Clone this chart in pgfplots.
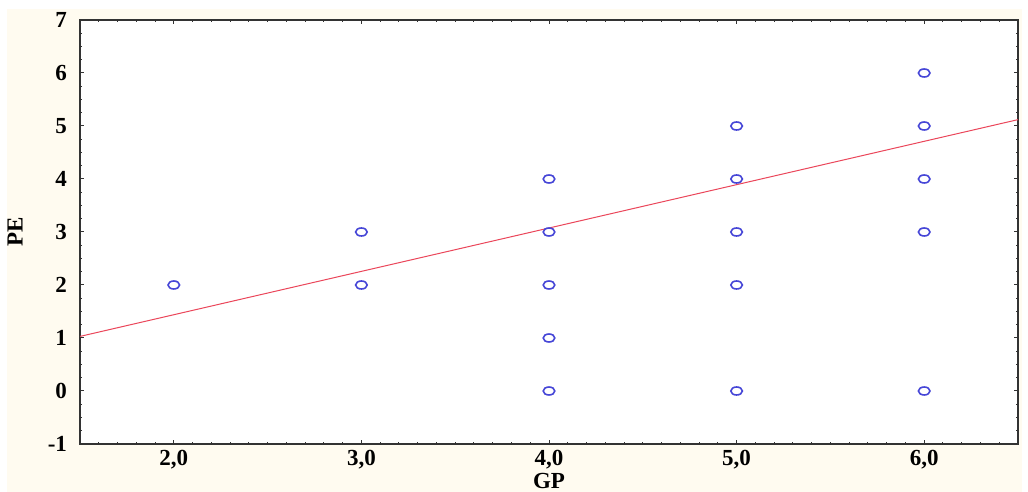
\documentclass[border=0pt]{standalone}
\usepackage{pgfplots}
\pgfplotsset{compat=1.18}
\usepackage{fontspec}
\setmainfont{Liberation Serif}
\definecolor{cream}{RGB}{255,251,240}
\definecolor{ptblue}{RGB}{70,70,215}
\definecolor{lnred}{RGB}{235,70,90}
\begin{document}
\begin{tikzpicture}[x=1pt,y=1pt]
\useasboundingbox (0,0) rectangle (514,246);
\fill[white] (0,0) rectangle (514,246);
\fill[cream] (3.5,0) rectangle (511,241.5);
\begin{axis}[
  at={(40pt,24pt)}, anchor=south west,
  scale only axis, width=469pt, height=212pt,
  xmin=1.5, xmax=6.5, ymin=-1, ymax=7,
  axis background/.style={fill=white},
  axis line style={draw=black!80, line width=0.6pt},
  xtick={2,3,4,5,6},
  xticklabels={{2,0},{3,0},{4,0},{5,0},{6,0}},
  minor xtick={1.6,1.7,1.8,1.9,2.1,2.2,2.3,2.4,2.5,2.6,2.7,2.8,2.9,3.1,3.2,3.3,3.4,3.5,3.6,3.7,3.8,3.9,4.1,4.2,4.3,4.4,4.5,4.6,4.7,4.8,4.9,5.1,5.2,5.3,5.4,5.5,5.6,5.7,5.8,5.9,6.1,6.2,6.3,6.4},
  ytick={-1,0,1,2,3,4,5,6,7},
  yticklabels={-1,0,1,2,3,4,5,6,7},
  minor y tick num=3,
  tick align=inside,
  major tick length=2pt, minor tick length=1.2pt,
  tick style={black!80, line width=0.5pt},
  /pgf/number format/assume math mode=true,
  ticklabel style={font=\fontsize{11.5}{13}\selectfont\bfseries},
  xticklabel style={yshift=-3pt, inner sep=0pt},
  yticklabel style={xshift=-3pt},
  xlabel={GP}, ylabel={PE},
  label style={font=\fontsize{11.5}{13}\selectfont\bfseries},
  xlabel style={at={(axis description cs:0.5,0)}, anchor=center, yshift=-18.5pt, inner sep=0pt},
  ylabel style={at={(axis description cs:-0.0693,0.5)}, anchor=center},
  clip=false,
]
\addplot[lnred, line width=0.5pt] coordinates {(1.5,1.03) (6.5,5.12)};
\addplot[only marks, mark=o, mark size=2pt, color=ptblue,
  mark options={xscale=1.45, line width=0.8pt}] coordinates {
  (2,2) (3,3) (3,2)
  (4,4) (4,3) (4,2) (4,1) (4,0)
  (5,5) (5,4) (5,3) (5,2) (5,0)
  (6,6) (6,5) (6,4) (6,3) (6,0)
};
\end{axis}
\end{tikzpicture}
\end{document}
